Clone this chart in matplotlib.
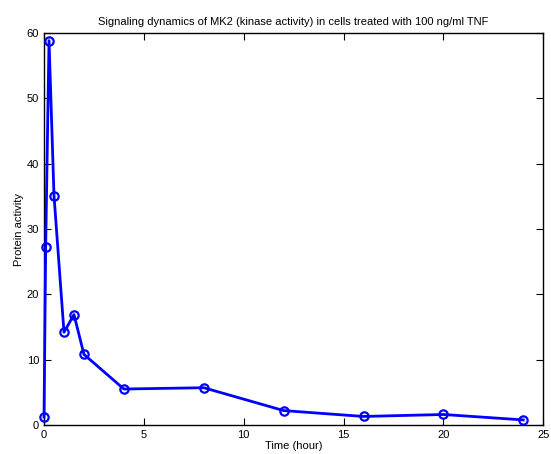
import matplotlib
matplotlib.use('Agg')
import matplotlib.pyplot as plt

plt.rcParams['font.family'] = ['Liberation Sans', 'DejaVu Sans']

# tempo (horas) e atividade da proteina
tempo = [0, 0.083, 0.25, 0.5, 1, 1.5, 2, 4, 8, 12, 16, 20, 24]
atividade = [1.2, 27.3, 58.85, 35.1, 14.2, 16.9, 10.8, 5.5, 5.7, 2.2, 1.3, 1.6, 0.77]

fig = plt.figure(figsize=(5.51, 4.54), dpi=100)
ax = fig.add_axes([0.0799, 0.064, 0.906, 0.863])
ax.plot(tempo, atividade, '-o', color='blue', linewidth=2, markersize=6,
        markerfacecolor='none', markeredgewidth=1.6, clip_on=False, zorder=3)
ax.set_xlim(0, 25)
ax.set_ylim(0, 60)
ax.set_xticks([0, 5, 10, 15, 20, 25])
ax.set_yticks([0, 10, 20, 30, 40, 50, 60])
ax.tick_params(direction='in', top=True, right=True, labelsize=8, length=5, width=0.8)
for s in ax.spines.values():
    s.set_linewidth(1)
ax.set_title('Signaling dynamics of MK2 (kinase activity) in cells treated with 100 ng/ml TNF',
             fontsize=8, pad=6)
ax.set_xlabel('Time (hour)', fontsize=8, labelpad=1)
ax.set_ylabel('Protein activity', fontsize=8, labelpad=2)
fig.savefig('out.png', dpi=100)
